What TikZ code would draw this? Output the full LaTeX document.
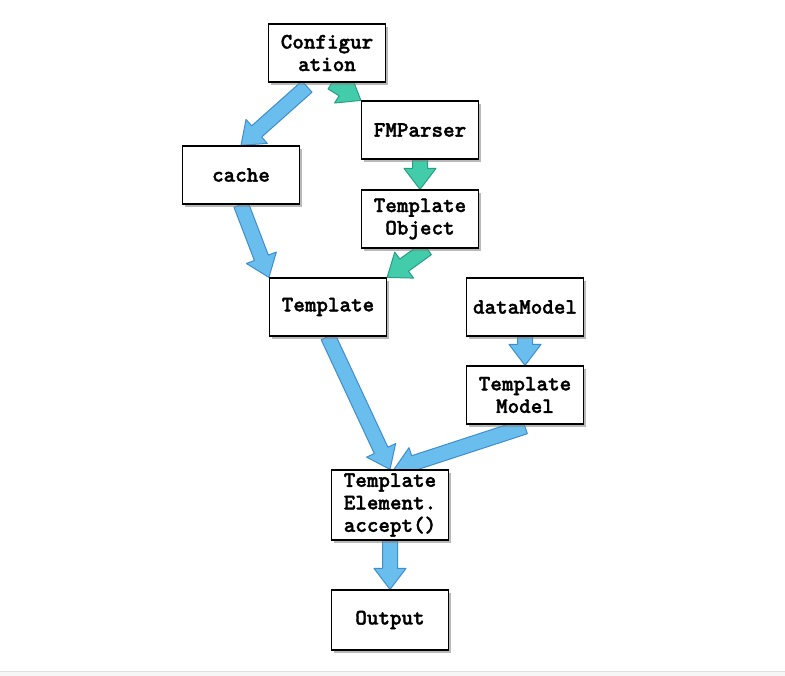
\documentclass[tikz,border=0pt]{standalone}
\usepackage{fontspec}
\newfontfamily\courbf{lmmonolt10-bold.otf}[FakeBold=1.6]
\usetikzlibrary{calc,shadows,backgrounds}
\definecolor{arrblue}{RGB}{106,190,238}
\definecolor{arrblueline}{RGB}{62,142,206}
\definecolor{arrgreen}{RGB}{66,204,170}
\definecolor{arrgreenline}{RGB}{38,158,136}
\tikzset{
  box/.style={draw=black, line width=1.2pt, fill=white, minimum width=117pt, minimum height=58pt,
    inner sep=2pt, align=center, font=\courbf\fontsize{22}{22.5}\selectfont,
    drop shadow={opacity=0.55, shadow xshift=2pt, shadow yshift=-3pt}},
  bluearrow/.style={fill=arrblue, draw=arrblueline, line width=1pt, line join=round},
  greenarrow/.style={fill=arrgreen, draw=arrgreenline, line width=1pt, line join=round}
}
\newcommand{\blkarrow}[3]{%
  \coordinate (ba-a) at #2;
  \coordinate (ba-b) at #3;
  \coordinate (ba-h) at ($(ba-b)!21pt!(ba-a)$);
  \draw[#1] ($(ba-a)!7.5pt!90:(ba-b)$) -- ($(ba-h)!7.5pt!90:(ba-b)$) -- ($(ba-h)!16pt!90:(ba-b)$)
    -- (ba-b) -- ($(ba-h)!16pt!-90:(ba-b)$) -- ($(ba-h)!7.5pt!-90:(ba-b)$) -- ($(ba-a)!7.5pt!-90:(ba-b)$) -- cycle;
}
\begin{document}
\begin{tikzpicture}[x=1pt,y=-1pt]
\useasboundingbox (0,0) rectangle (785,676);

\node[box] (config) at (327,53) {Configur\\ation};
\node[box] (fmp) at (420,130) {FMParser};
\node[box] (cache) at (241,175) {cache};
\node[box] (tobj) at (420,219) {Template\\Object};
\node[box] (templ) at (328,307) {Template};
\node[box] (dm) at (525,307) {dataModel};
\node[box] (tm) at (525,395) {Template\\Model};
\node[box, minimum height=70pt] (elem) at (390,505) {Template\\Element.\\accept()};
\node[box, minimum height=60pt] (out) at (390,620) {Output};

\begin{scope}[on background layer]
\fill[white] (0,0) rectangle (785,676);
\fill[gray!7] (0,671) rectangle (785,676);
\draw[gray!25, line width=0.8pt] (0,671) -- (785,671);
\blkarrow{bluearrow}{([shift={(-20pt,-4pt)}]config.south)}{(cache.north)}
\blkarrow{greenarrow}{([xshift=5pt]config.south)}{(fmp.north west)}
\blkarrow{greenarrow}{(fmp.south)}{(tobj.north)}
\blkarrow{bluearrow}{(cache.south)}{(templ.north west)}
\blkarrow{greenarrow}{([xshift=7pt]tobj.south)}{(templ.north east)}
\blkarrow{bluearrow}{(templ.south)}{(elem.north)}
\blkarrow{bluearrow}{(dm.south)}{(tm.north)}
\blkarrow{bluearrow}{([yshift=-2pt]tm.south)}{([xshift=4pt]elem.north)}
\blkarrow{bluearrow}{(elem.south)}{(out.north)}
\end{scope}
\end{tikzpicture}
\end{document}
